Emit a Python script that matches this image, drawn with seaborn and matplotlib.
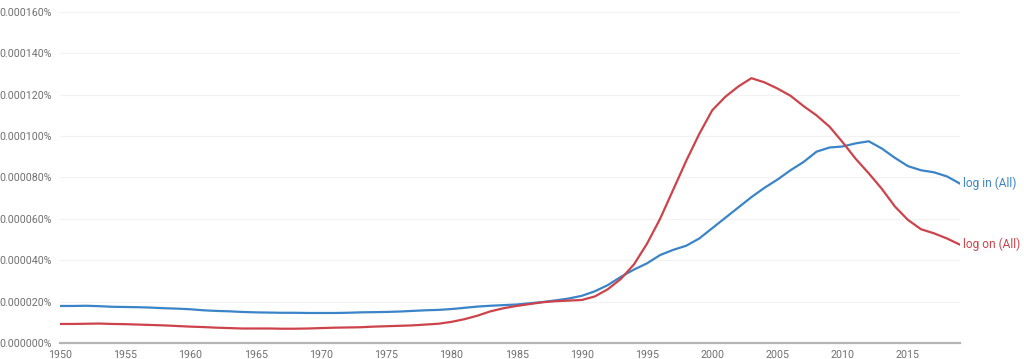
import matplotlib
matplotlib.use("Agg")
import matplotlib.pyplot as plt
import numpy as np
import pandas as pd
import seaborn as sns
from matplotlib.ticker import FuncFormatter, MultipleLocator

# frequencies in millionths of a percent (1.0 -> 0.000001%)
years = list(range(1950, 2020))
log_in = [
    17.9, 17.9, 18.0, 17.8, 17.5, 17.4, 17.3, 17.1, 16.8, 16.6,
    16.3, 15.8, 15.5, 15.3, 15.0, 14.8, 14.7, 14.6, 14.6, 14.5,
    14.5, 14.5, 14.6, 14.8, 14.9, 15.0, 15.2, 15.5, 15.8, 16.0,
    16.4, 17.0, 17.6, 18.0, 18.3, 18.6, 19.2, 19.8, 20.6, 21.5,
    22.8, 25.0, 28.0, 32.0, 35.5, 38.5, 42.5, 45.0, 47.0, 50.5,
    55.5, 60.5, 65.5, 70.5, 75.0, 79.0, 83.5, 87.5, 92.5, 94.5,
    95.0, 96.5, 97.5, 94.0, 89.5, 85.5, 83.5, 82.5, 80.5, 77.0,
]
log_on = [
    9.2, 9.2, 9.3, 9.4, 9.2, 9.1, 8.9, 8.7, 8.5, 8.2,
    7.9, 7.7, 7.4, 7.2, 7.0, 7.0, 7.0, 6.9, 6.9, 7.0,
    7.2, 7.4, 7.5, 7.6, 7.9, 8.1, 8.3, 8.5, 8.9, 9.3,
    10.2, 11.5, 13.2, 15.3, 16.8, 17.9, 18.8, 19.7, 20.2, 20.5,
    20.8, 22.5, 26.0, 31.0, 38.0, 48.0, 60.0, 74.0, 88.0, 101.0,
    112.5, 119.0, 124.0, 128.0, 126.0, 123.0, 119.5, 114.5, 110.0, 104.5,
    97.0, 89.0, 82.0, 74.5, 66.0, 59.5, 55.0, 53.0, 50.5, 47.5,
]
series_names = ["log in (All)", "log on (All)"]
colors = ["#3b84c8", "#cc434b"]
x_ticks = list(range(1950, 2020, 5))

df = pd.DataFrame({
    "year": years * 2,
    "freq": np.array(log_in + log_on) * 1e-6,
    "ngram": [series_names[0]] * len(years) + [series_names[1]] * len(years),
})

sns.set_style("white")
plt.rcParams["font.family"] = ["Roboto", "DejaVu Sans"]

fig = plt.figure(figsize=(10.24, 3.59), dpi=100)
ax = fig.add_axes([0.0586, 0.0446, 0.879, 0.922])

sns.lineplot(data=df, x="year", y="freq", hue="ngram",
             palette=dict(zip(series_names, colors)), linewidth=1.6,
             legend=False, ax=ax)

ax.set_xlim(1950, 2019)
ax.set_ylim(0, 160e-6)
ax.set_xticks(x_ticks)
ax.yaxis.set_major_locator(MultipleLocator(20e-6))
ax.yaxis.set_major_formatter(FuncFormatter(lambda v, _: f"{v:.6f}%"))
ax.grid(axis="y", color="#f2f2f2", linewidth=0.8)
ax.set_axisbelow(True)

for side in ["top", "right", "left"]:
    ax.spines[side].set_visible(False)
ax.spines["bottom"].set_color("#b5b5b5")
ax.spines["bottom"].set_linewidth(1.6)

ax.tick_params(axis="y", length=4, width=0.8, color="#888888", pad=2,
               labelsize=7.7, labelcolor="#6f6f6f")
ax.tick_params(axis="x", length=4, width=0.8, color="#b5b5b5", pad=1,
               labelsize=7.7, labelcolor="#6f6f6f")
ax.set_xlabel("")
ax.set_ylabel("")

# end-of-line labels
ax.text(years[-1] + 0.2, log_in[-1] * 1e-6, series_names[0], color=colors[0],
        fontsize=8.6, va="center", ha="left", clip_on=False)
ax.text(years[-1] + 0.2, log_on[-1] * 1e-6, series_names[1], color=colors[1],
        fontsize=8.6, va="center", ha="left", clip_on=False)

fig.savefig("out.png", dpi=100)
plt.close(fig)
